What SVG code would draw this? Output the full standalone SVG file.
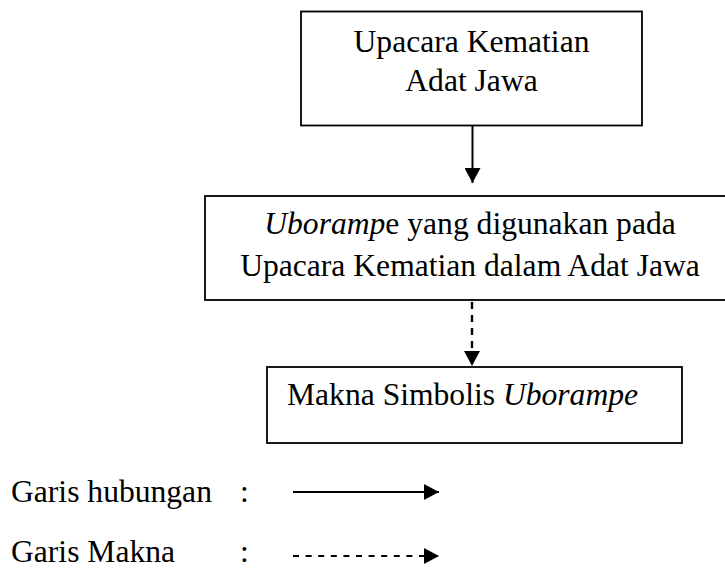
<svg xmlns="http://www.w3.org/2000/svg" width="725" height="568" viewBox="0 0 725 568">
<style>
.box{fill:#fff;stroke:#000;stroke-width:1.8}
.t{font-family:"Liberation Serif","Times New Roman",serif;font-size:31.6px;fill:#000}
.c{text-anchor:middle}
.ln{stroke:#000;stroke-width:2;fill:none}
.dash{stroke-dasharray:7 6;stroke-width:2.4}
.ldash{stroke-dasharray:6 6.6}
</style>
<defs>
<marker id="ah" viewBox="0 0 15 16" refX="15" refY="8" markerWidth="15" markerHeight="16" markerUnits="userSpaceOnUse" orient="auto">
<path d="M0,0 L15,8 L0,16 Z" fill="#000"/>
</marker>
</defs>
<rect width="725" height="568" fill="#fff"/>
<g id="node1">
<rect class="box" x="301" y="11.5" width="341" height="114"/>
<text class="t c" x="471.5" y="52">Upacara Kematian</text>
<text class="t c" x="471.5" y="91">Adat Jawa</text>
</g>
<g id="node2">
<rect class="box" x="205" y="196" width="530" height="104"/>
<text class="t c" x="470" y="234"><tspan font-style="italic">Uboramp</tspan>e yang digunakan pada</text>
<text class="t c" x="470" y="276">Upacara Kematian dalam Adat Jawa</text>
</g>
<g id="node3">
<rect class="box" x="267" y="367" width="415" height="76"/>
<text class="t" x="287" y="405">Makna Simbolis <tspan font-style="italic">Uborampe</tspan></text>
</g>
<g id="connectors">
<line class="ln" x1="472.5" y1="126" x2="472.5" y2="183" marker-end="url(#ah)"/>
<line class="ln dash" x1="472" y1="302" x2="472" y2="366" marker-end="url(#ah)"/>
</g>
<g id="legend">
<text class="t" x="11" y="502">Garis hubungan</text>
<text class="t" x="240" y="502">:</text>
<line class="ln" x1="293" y1="492" x2="439" y2="492" marker-end="url(#ah)"/>
<text class="t" x="11" y="562">Garis Makna</text>
<text class="t" x="240" y="562">:</text>
<line class="ln ldash" x1="293" y1="556" x2="439" y2="556" marker-end="url(#ah)"/>
</g>
</svg>
